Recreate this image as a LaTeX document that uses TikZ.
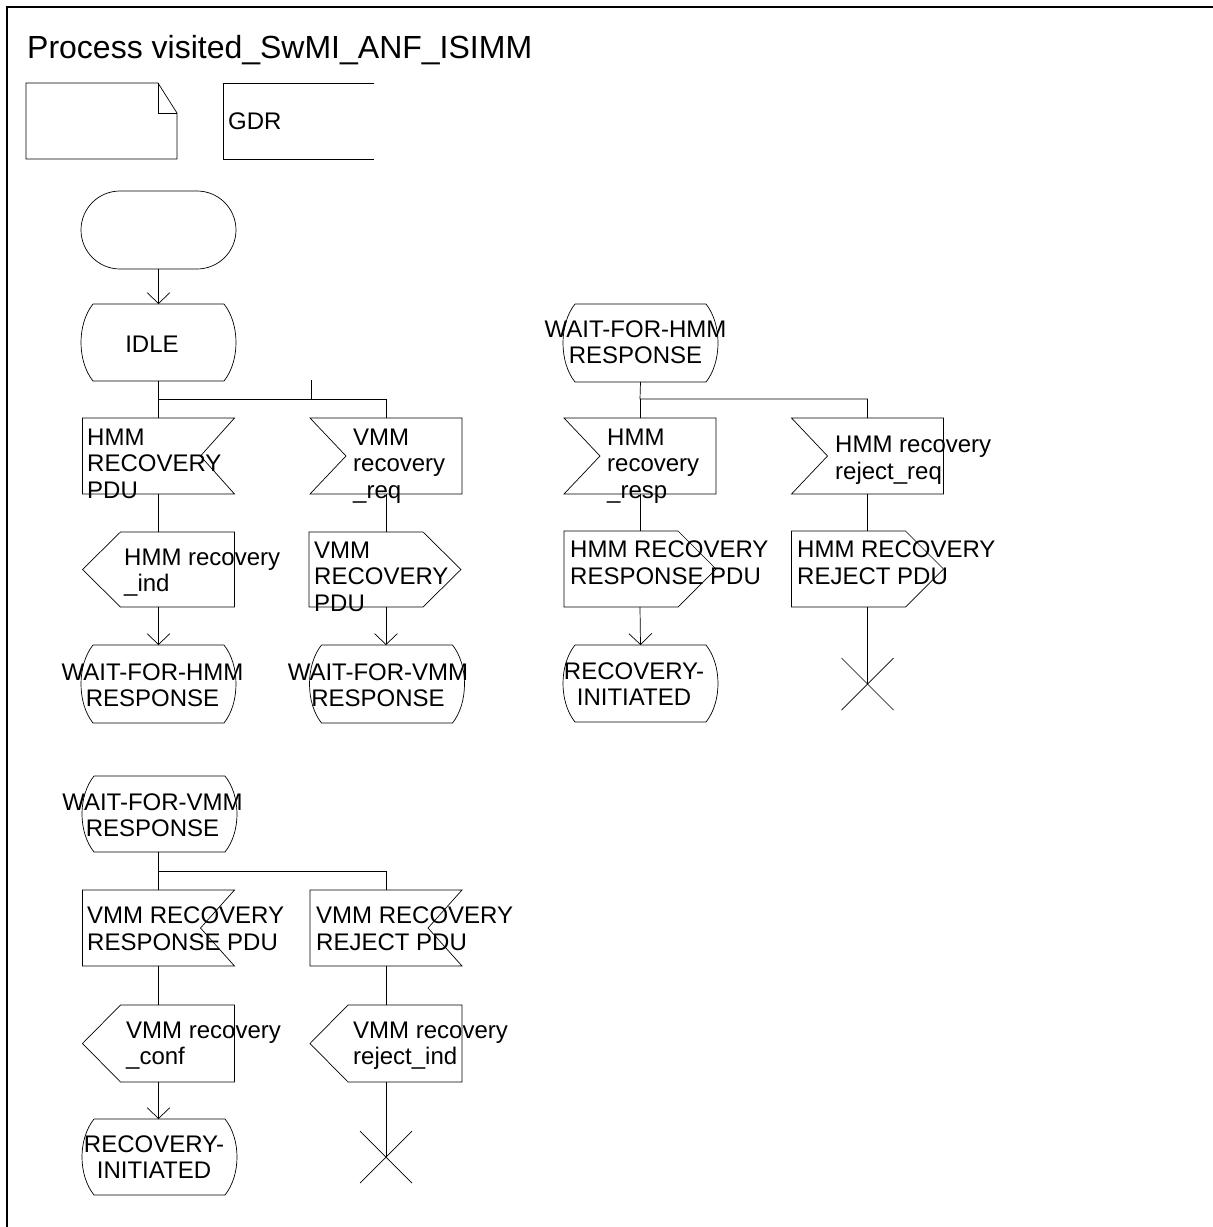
\documentclass[tikz,border=0pt]{standalone}
\usepackage{fontspec}
\setmainfont{Liberation Sans}
\usetikzlibrary{arrows.meta}
\tikzset{
  ln/.style={line width=0.7pt, draw=black},
  blk/.style={draw=none, inner sep=0pt, outer sep=0pt},
  txt/.style={inner sep=0pt, align=left, font=\fontsize{24}{26.5}\selectfont},
  ctxt/.style={inner sep=0pt, align=center, font=\fontsize{24}{26}\selectfont},
  arr/.style={ln, -{Straight Barb[length=11pt,width=23pt]}},
  stbox/.style={blk, minimum width=155pt, minimum height=77pt},
  sigbox/.style={blk, minimum width=152pt, minimum height=76pt}
}
\newcommand\sdlInR[1]{\draw[ln] (#1.north west) -- (#1.north east) -- ([xshift=-34pt]#1.east) -- (#1.south east) -- (#1.south west) -- cycle;}
\newcommand\sdlInL[1]{\draw[ln] (#1.north west) -- (#1.north east) -- (#1.south east) -- (#1.south west) -- ([xshift=36pt]#1.west) -- cycle;}
\newcommand\sdlOutL[1]{\draw[ln] ([xshift=38pt]#1.north west) -- (#1.north east) -- (#1.south east) -- ([xshift=38pt]#1.south west) -- (#1.west) -- cycle;}
\newcommand\sdlOutR[1]{\draw[ln] (#1.north west) -- ([xshift=-38pt]#1.north east) -- (#1.east) -- ([xshift=-38pt]#1.south east) -- (#1.south west) -- cycle;}
\newcommand\sdlState[1]{\draw[ln] ([xshift=12pt]#1.north west) -- ([xshift=-12pt]#1.north east) .. controls ([xshift=4pt,yshift=-20pt]#1.north east) and ([xshift=4pt,yshift=20pt]#1.south east) .. ([xshift=-12pt]#1.south east) -- ([xshift=12pt]#1.south west) .. controls ([xshift=-4pt,yshift=20pt]#1.south west) and ([xshift=-4pt,yshift=-20pt]#1.north west) .. ([xshift=12pt]#1.north west);}
\newcommand\sdlStop[1]{\draw[ln] ([xshift=-26pt,yshift=26pt]#1) -- ([xshift=26pt,yshift=-26pt]#1) ([xshift=-26pt,yshift=-26pt]#1) -- ([xshift=26pt,yshift=26pt]#1);}
\begin{document}
\begin{tikzpicture}[x=1pt,y=-1pt]
\useasboundingbox (0,0) rectangle (1213,1227);
% frame
\draw[line width=1.3pt] (7,1240) -- (7,7) -- (1230,7);
\node[inner sep=0pt, anchor=base west, font=\fontsize{32}{38}\selectfont] (title) at (27,58) {Process visited\_SwMI\_ANF\_ISIMM};

% text symbol and GDR
\node[blk, minimum width=151pt, minimum height=76pt] (note) at (101.5,121) {};
\draw[ln] (note.north west) -- ([xshift=-19pt]note.north east) -- ([yshift=-30pt]note.north east) -- (note.south east) -- (note.south west) -- cycle;
\draw[ln] ([xshift=-19pt]note.north east) -- ([xshift=-19pt,yshift=-30pt]note.north east) -- ([yshift=-30pt]note.north east);
\node[blk, minimum width=151pt, minimum height=76pt] (gdr) at (298.5,121) {};
\draw[ln] (gdr.north east) -- (gdr.north west) -- (gdr.south west) -- (gdr.south east);
\node[txt, anchor=base west] (gdrt) at (228,129) {GDR};

% start and IDLE
\node[ln, draw, rounded corners=39pt, minimum width=155pt, minimum height=78pt, inner sep=0pt] (start) at (158.5,230) {};
\node[stbox] (idle) at (158.5,342.5) {}; \sdlState{idle}
\node[ctxt, anchor=base] (idlet) at (152,352) {IDLE};
\draw[arr] (start.south) -- (idle.north);

% IDLE branch
\node[sigbox] (hmmpdu) at (158.5,456) {}; \sdlInR{hmmpdu}
\node[txt, anchor=base west] (hmmpdut) at (87,498) {HMM\\RECOVERY\\PDU};
\node[sigbox] (vmmreq) at (386,456) {}; \sdlInL{vmmreq}
\node[txt, anchor=base west] (vmmreqt) at (353,498) {VMM\\recovery\\\_req};
\node[sigbox, minimum height=75pt] (hmmind) at (158.5,569.5) {}; \sdlOutL{hmmind}
\node[txt, anchor=base west] (hmmindt) at (124,591.5) {HMM recovery\\\_ind};
\node[sigbox, minimum height=75pt] (vmmpdu) at (385,569.5) {}; \sdlOutR{vmmpdu}
\node[txt, anchor=base west] (vmmpdut) at (314,611) {VMM\\RECOVERY\\PDU};
\node[stbox, minimum height=78pt] (wfh1) at (158.5,684) {}; \sdlState{wfh1}
\node[ctxt, anchor=base] (wfh1t) at (152.5,706) {WAIT-FOR-HMM\\RESPONSE};
\node[stbox, minimum height=78pt] (wfv1) at (387,684) {}; \sdlState{wfv1}
\node[ctxt, anchor=base] (wfv1t) at (378,706) {WAIT-FOR-VMM\\RESPONSE};

\coordinate (br1) at (158.5,399);
\coordinate (stub1) at (311,380);
\draw[ln] (idle.south) -- (br1) -| (vmmreq.north);
\draw[ln] (br1) -- (hmmpdu.north);
\draw[ln] (stub1) -- (stub1 |- br1);
\draw[ln] (hmmpdu.south) -- (hmmind.north);
\draw[arr] (hmmind.south) -- (wfh1.north);
\draw[ln] (vmmreq.south) -- (vmmreq.south |- vmmpdu.north);
\draw[arr] (vmmreq.south |- vmmpdu.south) -- (vmmreq.south |- wfv1.north);

% WAIT-FOR-HMM RESPONSE
\node[stbox, minimum height=78pt] (wfh2) at (640.5,343) {}; \sdlState{wfh2}
\node[ctxt, anchor=base] (wfh2t) at (635.5,363.5) {WAIT-FOR-HMM\\RESPONSE};
\node[sigbox] (hmmresp) at (640,456) {}; \sdlInL{hmmresp}
\node[txt, anchor=base west] (hmmrespt) at (607,498) {HMM\\recovery\\\_resp};
\node[sigbox] (hmmrej) at (867.5,456) {}; \sdlInL{hmmrej}
\node[txt, anchor=base west] (hmmrejt) at (835,479) {HMM recovery\\reject\_req};
\node[sigbox] (hmmresppdu) at (640,569) {}; \sdlOutR{hmmresppdu}
\node[txt, anchor=base west] (hmmresppdut) at (570,584) {HMM RECOVERY\\RESPONSE PDU};
\node[sigbox] (hmmrejpdu) at (867.5,569) {}; \sdlOutR{hmmrejpdu}
\node[txt, anchor=base west] (hmmrejpdut) at (797,584) {HMM RECOVERY\\REJECT PDU};
\node[stbox] (recinit1) at (640.5,683.5) {}; \sdlState{recinit1}
\node[ctxt, anchor=base] (recinit1t) at (634,705.5) {RECOVERY-\\INITIATED};
\coordinate (stop1) at (867.5,684);
\sdlStop{stop1}

\coordinate (br2) at (640,399);
\draw[ln] (wfh2.south) -- (br2) -| (hmmrej.north);
\draw[ln] (br2) -- (hmmresp.north);
\draw[ln] (hmmresp.south) -- (hmmresppdu.north);
\draw[arr] (hmmresppdu.south) -- (recinit1.south |- recinit1.north);
\draw[ln] (hmmrej.south) -- (hmmrejpdu.north);
\draw[ln] (hmmrejpdu.south) -- (stop1);

% WAIT-FOR-VMM RESPONSE
\node[stbox, minimum height=76pt] (wfv2) at (159.5,814) {}; \sdlState{wfv2}
\node[ctxt, anchor=base] (wfv2t) at (152.5,836.5) {WAIT-FOR-VMM\\RESPONSE};
\node[sigbox] (vmmresppdu) at (158.5,928) {}; \sdlInR{vmmresppdu}
\node[txt, anchor=base west] (vmmresppdut) at (87,950) {VMM RECOVERY\\RESPONSE PDU};
\node[sigbox] (vmmrejpdu) at (386,928) {}; \sdlInR{vmmrejpdu}
\node[txt, anchor=base west] (vmmrejpdut) at (316,950) {VMM RECOVERY\\REJECT PDU};
\node[sigbox, minimum height=77pt] (vmmconf) at (158.5,1043.5) {}; \sdlOutL{vmmconf}
\node[txt, anchor=base west] (vmmconft) at (126,1064.5) {VMM recovery\\\_conf};
\node[sigbox, minimum height=77pt] (vmmrejind) at (386,1043.5) {}; \sdlOutL{vmmrejind}
\node[txt, anchor=base west] (vmmrejindt) at (353,1064.5) {VMM recovery\\reject\_ind};
\node[stbox, minimum height=76pt] (recinit2) at (159.5,1157) {}; \sdlState{recinit2}
\node[ctxt, anchor=base] (recinit2t) at (154,1178) {RECOVERY-\\INITIATED};
\coordinate (stop2) at (386,1157);
\sdlStop{stop2}

\coordinate (br3) at (158.5,871);
\draw[ln] (wfv2.south -| br3) -- (br3) -| (vmmrejpdu.north);
\draw[ln] (br3) -- (vmmresppdu.north);
\draw[ln] (vmmresppdu.south) -- (vmmconf.north);
\draw[arr] (vmmconf.south) -- (vmmconf.south |- recinit2.north);
\draw[ln] (vmmrejpdu.south) -- (vmmrejind.north);
\draw[ln] (vmmrejind.south) -- (stop2);
\end{tikzpicture}
\end{document}
